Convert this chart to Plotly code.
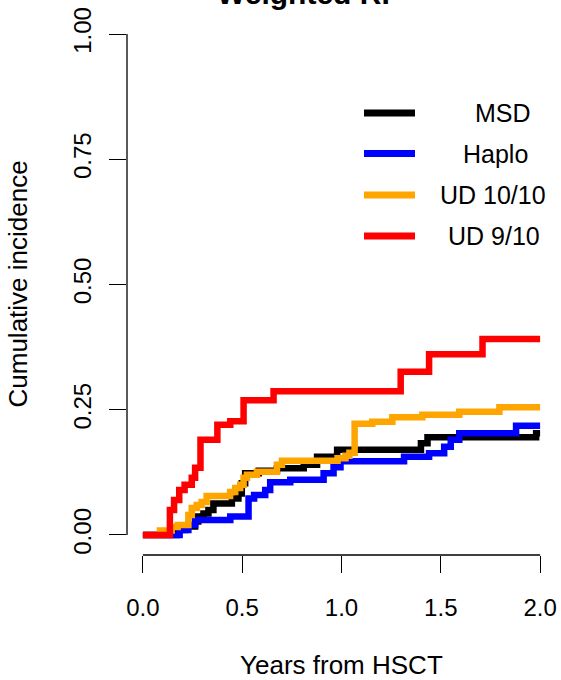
import plotly.graph_objects as go

# ---------------- data ----------------
groups = ["MSD", "Haplo", "UD 10/10", "UD 9/10"]
colors = ["#000000", "#0000FF", "#FFA500", "#FF0000"]

msd_t = [0, 0.17, 0.212, 0.263, 0.279, 0.305, 0.33, 0.355, 0.448, 0.481, 0.498, 0.515, 0.583, 0.675,
         0.81, 0.877, 0.978, 1.40, 1.433, 1.98, 2.0]
msd_v = [0, 0.01, 0.017, 0.027, 0.037, 0.043, 0.05, 0.063, 0.073, 0.083, 0.103, 0.123, 0.128, 0.133,
         0.14, 0.156, 0.17, 0.183, 0.195, 0.203, 0.203]

haplo_t = [0, 0.185, 0.229, 0.263, 0.44, 0.532, 0.56, 0.616, 0.641, 0.742, 0.91, 0.96, 0.995, 1.315,
           1.441, 1.517, 1.55, 1.593, 1.879, 2.0]
haplo_v = [0, 0.01, 0.02, 0.03, 0.037, 0.073, 0.08, 0.09, 0.105, 0.11, 0.123, 0.135, 0.147, 0.156,
           0.163, 0.176, 0.19, 0.203, 0.218, 0.218]

ud10_t = [0, 0.086, 0.145, 0.175, 0.229, 0.246, 0.271, 0.296, 0.321, 0.439, 0.465, 0.49, 0.507, 0.524,
          0.574, 0.675, 0.70, 0.98, 1.02, 1.04, 1.066, 1.155, 1.256, 1.407, 1.593, 1.795, 2.0]
ud10_v = [0, 0.009, 0.016, 0.02, 0.04, 0.054, 0.06, 0.066, 0.078, 0.086, 0.094, 0.10, 0.114, 0.12,
          0.126, 0.14, 0.148, 0.153, 0.158, 0.164, 0.222, 0.226, 0.235, 0.24, 0.246, 0.255, 0.255]

ud9_t = [0, 0.136, 0.157, 0.183, 0.21, 0.246, 0.263, 0.29, 0.375, 0.44, 0.507, 0.658, 1.298, 1.441, 1.71, 2.0]
ud9_v = [0, 0.05, 0.07, 0.09, 0.10, 0.114, 0.134, 0.19, 0.22, 0.227, 0.269, 0.287, 0.326, 0.361, 0.391, 0.391]

series_t = [msd_t, haplo_t, ud10_t, ud9_t]
series_v = [msd_v, haplo_v, ud10_v, ud9_v]

x_ticks = [0, 0.5, 1.0, 1.5, 2.0]
x_ticktext = ["0.0", "0.5", "1.0", "1.5", "2.0"]
y_ticks = [0, 0.25, 0.5, 0.75, 1.0]
y_ticktext = ["0.00", "0.25", "0.50", "0.75", "1.00"]

title_text = "Weighted RF"
x_title = "Years from HSCT"
y_title = "Cumulative incidence"

# ---------------- layout geometry ----------------
W, H = 561, 680
ML, MR, MT, MB = 127, 5, 14, 125
PW, PH = W - ML - MR, H - MT - MB
FONT = "Liberation Sans, Arial, sans-serif"


def px_x(px):
    return (px - ML) / PW


def px_y(py):
    return (H - MB - py) / PH


fig = go.Figure()
for name, col, t, v in zip(groups, colors, series_t, series_v):
    fig.add_trace(go.Scatter(x=t, y=v, mode="lines", name=name, line=dict(color=col, width=6.5, shape="hv"),
                             showlegend=False, hoverinfo="skip"))

shapes = [
    dict(type="line", xref="x", yref="paper", x0=x_ticks[0], x1=x_ticks[-1], y0=0, y1=0,
         line=dict(color="black", width=1.3)),
    dict(type="line", xref="paper", yref="y", x0=0, x1=0, y0=y_ticks[0], y1=y_ticks[-1],
         line=dict(color="black", width=1.3)),
]

annotations = []
# custom legend (R-style, centred labels)
legend_rows = [113, 153.5, 195, 236]
legend_text_x = [503, 495, 493, 494]
for name, col, ry, tx in zip(groups, colors, legend_rows, legend_text_x):
    shapes.append(dict(type="line", xref="paper", yref="paper", x0=px_x(364), x1=px_x(415),
                       y0=px_y(ry), y1=px_y(ry), line=dict(color=col, width=7)))
    annotations.append(dict(text=name, xref="paper", yref="paper", x=px_x(tx), y=px_y(ry),
                            xanchor="center", yanchor="middle", showarrow=False,
                            font=dict(family=FONT, size=25, color="black")))

annotations.append(dict(text=y_title, xref="paper", yref="paper", x=px_x(17), y=0.5, textangle=-90,
                        xanchor="center", yanchor="middle", showarrow=False,
                        font=dict(family=FONT, size=26, color="black")))
annotations.append(dict(text=x_title, xref="paper", yref="paper", x=0.5, y=px_y(665),
                        xanchor="center", yanchor="middle", showarrow=False,
                        font=dict(family=FONT, size=26, color="black")))
annotations.append(dict(text="<b>" + title_text + "</b>", xref="paper", yref="paper", x=px_x(308), y=px_y(-6),
                        xanchor="center", yanchor="middle", showarrow=False,
                        font=dict(family=FONT, size=30, color="black")))

fig.update_layout(
    width=W, height=H,
    margin=dict(l=ML, r=MR, t=MT, b=MB, autoexpand=False),
    paper_bgcolor="white", plot_bgcolor="white",
    font=dict(family=FONT, size=24, color="black"),
    shapes=shapes, annotations=annotations,
    xaxis=dict(range=[-0.08, 2.08], tickvals=x_ticks, ticktext=x_ticktext, ticks="outside", ticklen=17,
               tickwidth=1.3, tickcolor="black", showgrid=False, zeroline=False, showline=False,
               ticklabelstandoff=14, tickfont=dict(size=24)),
    yaxis=dict(range=[-0.04, 1.04], tickvals=y_ticks, ticktext=y_ticktext, ticks="outside", ticklen=17,
               tickwidth=1.3, tickcolor="black", showgrid=False, zeroline=False, showline=False,
               tickangle=-90, ticklabelstandoff=8, tickfont=dict(size=24)),
)

fig.write_html("out.html")
